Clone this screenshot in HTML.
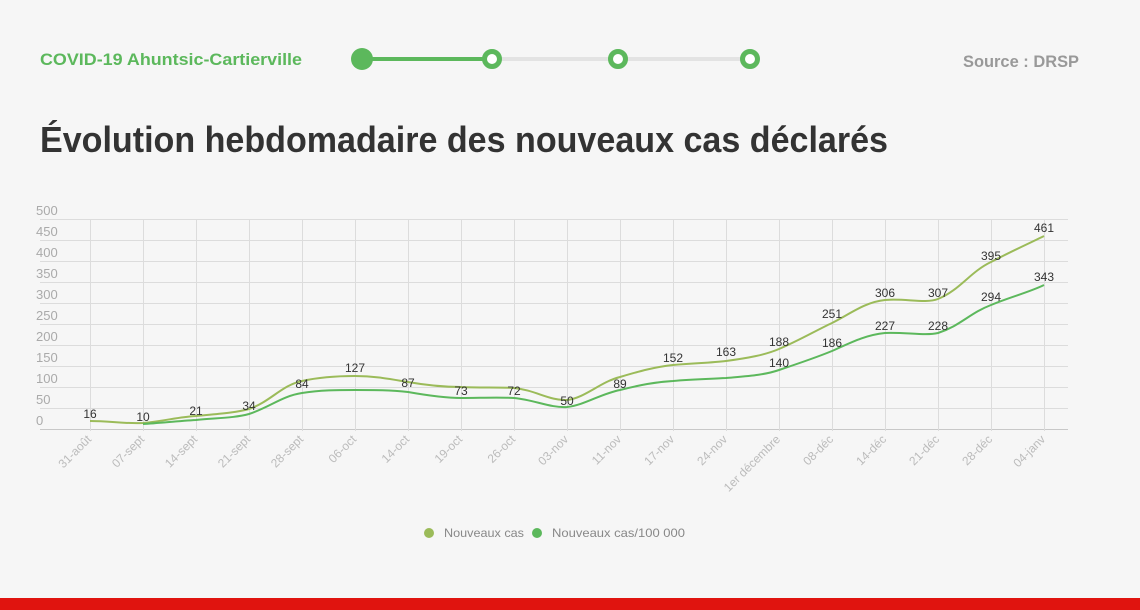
<!DOCTYPE html>
<html><head><meta charset="utf-8"><style>
html,body{margin:0;padding:0;background:#f6f6f6;}
svg{display:block;font-family:"Liberation Sans",sans-serif;}
</style></head><body>
<svg width="1140" height="610" viewBox="0 0 1140 610">
<rect width="1140" height="610" fill="#f6f6f6"/>
<text x="40" y="65" font-size="17" font-weight="bold" fill="#5cb85c" textLength="262" lengthAdjust="spacingAndGlyphs">COVID-19 Ahuntsic-Cartierville</text>
<line x1="362" y1="59" x2="750" y2="59" stroke="#e3e3e3" stroke-width="4"/>
<line x1="362" y1="59" x2="492" y2="59" stroke="#5cb85c" stroke-width="4"/>
<circle cx="362" cy="59" r="11" fill="#5cb85c"/>
<circle cx="492" cy="59" r="7.5" fill="#fff" stroke="#5cb85c" stroke-width="5"/>
<circle cx="618" cy="59" r="7.5" fill="#fff" stroke="#5cb85c" stroke-width="5"/>
<circle cx="750" cy="59" r="7.5" fill="#fff" stroke="#5cb85c" stroke-width="5"/>
<text x="1079" y="67" font-size="17" font-weight="bold" fill="#999" text-anchor="end" textLength="116" lengthAdjust="spacingAndGlyphs">Source : DRSP</text>
<text x="40" y="152" font-size="36" font-weight="bold" fill="#333" textLength="848" lengthAdjust="spacingAndGlyphs">Évolution hebdomadaire des nouveaux cas déclarés</text>
<g stroke="#dcdcdc" stroke-width="1">
<line x1="40" x2="1068" y1="219.5" y2="219.5"/><line x1="40" x2="1068" y1="240.5" y2="240.5"/>
<line x1="40" x2="1068" y1="261.5" y2="261.5"/><line x1="40" x2="1068" y1="282.5" y2="282.5"/>
<line x1="40" x2="1068" y1="303.5" y2="303.5"/><line x1="40" x2="1068" y1="324.5" y2="324.5"/>
<line x1="40" x2="1068" y1="345.5" y2="345.5"/><line x1="40" x2="1068" y1="366.5" y2="366.5"/>
<line x1="40" x2="1068" y1="387.5" y2="387.5"/><line x1="40" x2="1068" y1="408.5" y2="408.5"/>
</g>
<line x1="40" x2="1068" y1="429.5" y2="429.5" stroke="#c8c8c8"/>
<g stroke="#dcdcdc">
<line x1="90.5" x2="90.5" y1="219" y2="431"/><line x1="143.5" x2="143.5" y1="219" y2="431"/><line x1="196.5" x2="196.5" y1="219" y2="431"/><line x1="249.5" x2="249.5" y1="219" y2="431"/><line x1="302.5" x2="302.5" y1="219" y2="431"/><line x1="355.5" x2="355.5" y1="219" y2="431"/><line x1="408.5" x2="408.5" y1="219" y2="431"/><line x1="461.5" x2="461.5" y1="219" y2="431"/><line x1="514.5" x2="514.5" y1="219" y2="431"/><line x1="567.5" x2="567.5" y1="219" y2="431"/><line x1="620.5" x2="620.5" y1="219" y2="431"/><line x1="673.5" x2="673.5" y1="219" y2="431"/><line x1="726.5" x2="726.5" y1="219" y2="431"/><line x1="779.5" x2="779.5" y1="219" y2="431"/><line x1="832.5" x2="832.5" y1="219" y2="431"/><line x1="885.5" x2="885.5" y1="219" y2="431"/><line x1="938.5" x2="938.5" y1="219" y2="431"/><line x1="991.5" x2="991.5" y1="219" y2="431"/><line x1="1044.5" x2="1044.5" y1="219" y2="431"/>
</g>
<g font-size="13" fill="#aaa">
<text x="36" y="215">500</text><text x="36" y="236">450</text><text x="36" y="257">400</text><text x="36" y="278">350</text><text x="36" y="299">300</text><text x="36" y="320">250</text><text x="36" y="341">200</text><text x="36" y="362">150</text><text x="36" y="383">100</text><text x="36" y="404">50</text><text x="36" y="425">0</text>
</g>
<g font-size="12" fill="#bbb" text-anchor="end">
<text transform="translate(92,440) rotate(-45)">31-août</text>
<text transform="translate(145,440) rotate(-45)">07-sept</text>
<text transform="translate(198,440) rotate(-45)">14-sept</text>
<text transform="translate(251,440) rotate(-45)">21-sept</text>
<text transform="translate(304,440) rotate(-45)">28-sept</text>
<text transform="translate(357,440) rotate(-45)">06-oct</text>
<text transform="translate(410,440) rotate(-45)">14-oct</text>
<text transform="translate(463,440) rotate(-45)">19-oct</text>
<text transform="translate(516,440) rotate(-45)">26-oct</text>
<text transform="translate(569,440) rotate(-45)">03-nov</text>
<text transform="translate(622,440) rotate(-45)">11-nov</text>
<text transform="translate(675,440) rotate(-45)">17-nov</text>
<text transform="translate(728,440) rotate(-45)">24-nov</text>
<text transform="translate(781,440) rotate(-45)">1er décembre</text>
<text transform="translate(834,440) rotate(-45)">08-déc</text>
<text transform="translate(887,440) rotate(-45)">14-déc</text>
<text transform="translate(940,440) rotate(-45)">21-déc</text>
<text transform="translate(993,440) rotate(-45)">28-déc</text>
<text transform="translate(1046,440) rotate(-45)">04-janv</text>
</g>
<path fill="none" stroke="#9bbb59" stroke-width="2" d="M90,421 C110,421 125,424 143,423 C165,421 178,417 196,416 C215,414 235,413 249,409 C270,402 282,385 302,381 C320,377 338,376 355,376 C375,376 390,379 408,382 C425,385 445,387 461,387 C480,388 498,387 514,388 C535,390 550,401 567,400 C585,398 600,382 620,377 C640,371 655,367 673,365 C693,363 710,363 726,361 C748,358 765,355 779,349 C800,340 815,331 832,323 C850,314 865,302 885,300 C905,298 925,304 938,299 C960,290 970,272 991,262 C1010,252 1030,243 1044,236"/>
<path fill="none" stroke="#5cb85c" stroke-width="2" d="M143,424 C160,423 178,421 196,420 C215,418 235,418 249,414 C270,407 282,396 302,393 C320,390 338,390 355,390 C375,390 390,390 408,392 C425,395 445,398 461,398 C480,398 498,397 514,398 C535,400 550,408 567,407 C585,405 600,394 620,390 C640,385 655,382 673,381 C693,379 710,379 726,378 C748,376 765,375 779,370 C800,363 815,358 832,351 C850,343 865,335 885,333 C905,332 925,336 938,333 C960,326 970,313 991,305 C1010,297 1030,292 1044,285"/>
<g font-size="12" fill="#333" text-anchor="middle">
<text x="90" y="418">16</text><text x="143" y="421">10</text><text x="196" y="415">21</text><text x="249" y="410">34</text><text x="302" y="388">84</text><text x="355" y="372">127</text><text x="408" y="387">87</text><text x="461" y="395">73</text><text x="514" y="395">72</text><text x="567" y="405">50</text><text x="620" y="388">89</text><text x="673" y="362">152</text><text x="726" y="356">163</text><text x="779" y="346">188</text><text x="832" y="318">251</text><text x="885" y="297">306</text><text x="938" y="297">307</text><text x="991" y="260">395</text><text x="1044" y="232">461</text>
<text x="779" y="367">140</text><text x="832" y="347">186</text><text x="885" y="330">227</text><text x="938" y="330">228</text><text x="991" y="301">294</text><text x="1044" y="281">343</text>
</g>
<circle cx="429" cy="533" r="5" fill="#9bbb59"/>
<text x="444" y="537" font-size="12" fill="#888" textLength="80" lengthAdjust="spacingAndGlyphs">Nouveaux cas</text>
<circle cx="537" cy="533" r="5" fill="#5cb85c"/>
<text x="552" y="537" font-size="12" fill="#888" textLength="133" lengthAdjust="spacingAndGlyphs">Nouveaux cas/100 000</text>
<rect x="0" y="598" width="1140" height="12" fill="#e0140f"/>
</svg>
</body></html>
